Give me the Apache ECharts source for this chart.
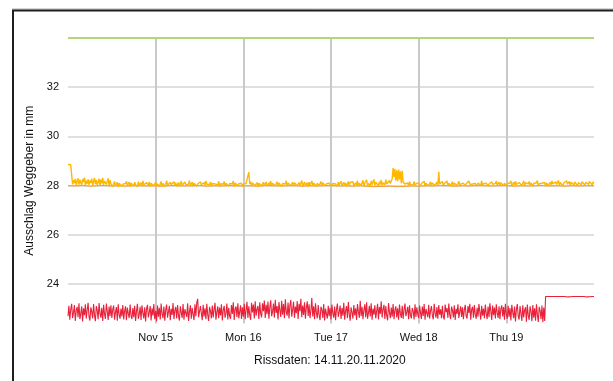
<!DOCTYPE html>
<html>
<head>
<meta charset="utf-8">
<script src="https://cdn.jsdelivr.net/npm/echarts@6/dist/echarts.min.js"></script>
<style>
html,body{margin:0;padding:0;background:#fff;}
#chart{width:613px;height:381px;}
</style>
</head>
<body>
<div id="chart"></div>
<script>
// ---- data (hours since 14.11.2020 00:00, sampled every 15 min) ----
const sampleStepHours = 0.25;
const dayTickLabels = ["", "Nov 15", "Mon 16", "Tue 17", "Wed 18", "Thu 19", ""];
const yTickValues = [24, 26, 28, 30, 32];
const limitValue = 34;
const limitHours = [0, 144];

const redValues = [
  22.70,23.12,22.55,22.98,23.20,22.62,22.84,23.15,22.50,22.92,23.08,22.66,23.22,22.58,22.80,23.10,22.48,23.02,22.74,23.18,22.60,22.95,23.24,22.68,
  22.52,23.06,22.88,22.61,23.19,22.73,22.49,23.11,22.94,22.57,23.23,22.82,22.64,23.04,22.50,23.16,22.78,22.59,23.21,22.90,22.54,23.09,22.70,23.14,
  22.63,22.97,23.13,22.55,22.86,23.07,22.51,23.18,22.76,22.60,23.01,22.69,23.15,22.56,22.91,23.10,22.53,23.05,22.81,22.62,23.17,22.72,22.58,23.03,
  22.66,23.12,22.50,22.89,23.20,22.59,22.77,23.08,22.54,23.14,22.83,22.61,23.06,22.48,22.99,23.16,22.65,22.85,23.11,22.52,23.02,22.73,23.19,22.57,
  22.92,22.49,23.13,22.68,23.04,22.56,23.21,22.80,22.62,23.09,22.51,22.96,23.17,22.64,22.87,23.12,22.53,23.00,22.75,23.23,22.58,22.93,23.07,22.60,
  23.15,22.71,22.52,23.10,22.84,22.63,23.19,22.55,22.98,23.06,22.67,23.22,22.50,22.88,23.14,22.59,23.03,22.78,22.54,23.18,22.70,23.25,23.40,22.66,
  22.58,23.11,22.82,22.53,23.16,22.69,23.02,22.57,23.20,22.76,22.50,23.08,22.91,22.61,23.13,22.65,22.97,23.24,22.55,22.86,23.10,22.62,23.05,22.73,
  23.18,22.52,22.94,23.12,22.64,22.81,23.21,22.56,23.04,22.70,22.59,23.15,22.79,23.26,22.54,22.99,23.09,22.66,23.22,22.61,22.88,23.14,22.58,23.06,
  22.68,23.20,22.57,22.95,23.28,22.63,23.10,22.74,22.55,23.24,22.85,23.17,22.60,23.30,22.72,22.98,23.12,22.58,23.26,22.80,22.65,23.22,22.90,23.33,
  22.62,23.16,22.78,23.29,22.59,23.05,23.34,22.70,22.88,23.21,22.64,23.36,22.83,23.11,22.56,23.27,22.94,22.67,23.32,22.76,23.19,22.61,23.38,22.86,
  22.72,23.25,22.60,23.14,23.35,22.68,22.97,23.28,22.63,23.09,22.82,23.31,22.58,23.20,22.90,23.40,22.66,23.13,22.75,23.26,22.59,23.06,23.30,22.71,
  23.18,22.62,22.93,23.44,22.69,23.10,22.57,23.22,22.84,22.61,23.15,22.74,22.54,23.08,22.96,22.63,23.19,22.52,23.01,22.79,22.60,23.12,22.70,23.04,
  22.56,23.17,22.81,22.64,23.09,22.53,22.98,23.21,22.67,22.87,23.13,22.58,23.03,22.72,23.24,22.55,22.92,23.11,22.62,23.27,22.77,22.51,23.06,22.85,
  22.60,23.15,22.73,23.02,22.54,23.19,22.88,22.63,23.32,22.70,23.08,22.57,22.95,23.18,22.66,23.26,22.59,22.83,23.12,22.69,23.22,22.55,23.01,22.76,
  23.14,22.61,22.90,23.20,22.56,23.07,22.79,23.30,22.64,22.97,23.16,22.58,23.11,22.72,22.53,23.23,22.86,22.62,23.05,22.68,23.19,22.57,22.94,23.10,
  22.65,23.02,22.55,23.17,22.80,22.63,23.12,22.59,22.96,23.21,22.70,22.87,23.08,22.57,23.14,22.74,22.61,23.03,22.90,22.56,23.18,22.67,23.06,22.78,
  22.62,23.13,22.84,22.58,23.09,22.71,23.19,22.55,22.99,23.04,22.66,23.16,22.60,22.92,23.11,22.73,22.57,23.20,22.82,22.64,23.07,22.59,23.15,22.76,
  22.98,22.61,23.12,22.69,22.56,23.17,22.86,23.03,22.63,23.21,22.75,22.58,23.09,22.93,22.65,23.14,22.54,23.00,22.79,23.18,22.62,22.89,23.10,22.67,
  23.06,22.57,22.95,23.16,22.70,22.60,23.11,22.83,23.20,22.55,22.97,23.08,22.64,23.15,22.76,22.59,23.04,22.68,23.19,22.87,22.56,23.12,22.72,23.01,
  22.61,23.17,22.80,22.58,23.09,22.66,23.22,22.91,22.54,23.13,22.74,23.05,22.60,23.18,22.84,22.63,23.10,22.57,22.99,23.14,22.69,23.07,22.55,23.20,
  22.78,22.59,23.12,22.67,23.03,22.52,23.16,22.85,22.62,23.09,22.48,22.97,23.19,22.70,22.56,23.11,22.81,22.50,23.14,22.65,22.94,23.06,22.47,23.17,
  22.73,22.55,23.10,22.88,22.49,23.15,22.64,23.02,22.51,23.18,22.76,22.46,23.08,22.92,22.58,23.13,22.45,23.05,22.50,23.50,23.50,23.49,23.50,23.50,
  23.50,23.50,23.49,23.50,23.50,23.48,23.50,23.50,23.49,23.50,23.50,23.50,23.48,23.50,23.50,23.49,23.50,23.50,23.50,23.48,23.50,23.50,23.49,23.50,
  23.50,23.50,23.50,23.48,23.50,23.49,23.50,23.50,23.50,23.48,23.50,23.50,23.49,23.50,23.50,23.50,23.48,23.50,23.50,23.49,23.50,23.50,23.50,23.49,
  23.50
];

const yellowValues = [
  28.86,28.87,28.86,28.85,28.86,28.05,28.22,28.10,28.28,27.99,28.18,28.30,28.04,28.24,28.12,28.02,28.27,28.15,28.33,28.01,28.20,28.08,28.26,28.03,
  28.21,28.11,28.29,27.99,28.17,28.31,28.06,28.23,28.02,28.14,28.28,28.00,28.25,28.09,28.32,28.03,28.19,28.27,28.05,28.13,28.30,27.98,28.22,28.07,
  28.12,27.96,28.08,28.17,27.99,28.04,28.14,27.95,28.10,28.02,28.16,27.97,28.06,28.13,27.98,28.09,28.18,28.00,28.05,28.15,27.96,28.11,28.03,28.08,
  27.97,28.14,28.04,28.09,27.95,28.16,28.01,28.07,28.12,27.98,28.19,28.03,28.08,27.96,28.13,28.05,28.01,28.15,27.97,28.10,28.06,28.12,27.99,28.04,
  28.15,27.98,28.07,28.11,27.96,28.03,28.17,28.00,28.09,28.13,27.97,28.06,28.20,28.02,28.10,27.95,28.14,28.04,28.08,27.99,28.16,28.01,28.12,27.97,
  28.05,28.13,27.98,28.09,28.18,28.01,28.07,27.96,28.15,28.04,28.11,27.99,28.06,28.21,28.00,28.08,28.14,27.97,28.10,28.03,28.17,27.98,28.07,28.12,
  27.99,28.16,28.04,28.08,27.96,28.13,28.02,28.19,28.06,27.98,28.11,28.05,28.15,27.97,28.09,28.01,28.14,28.07,27.99,28.12,28.03,28.18,27.96,28.08,
  28.13,28.00,28.06,28.17,27.98,28.10,28.04,28.15,27.97,28.09,28.12,28.01,28.07,28.19,27.96,28.11,28.05,28.14,27.99,28.08,28.16,28.02,28.10,27.97,
  28.06,28.14,27.99,28.09,28.12,28.02,28.55,28.07,28.16,27.98,28.11,28.04,28.17,28.00,28.08,28.13,27.96,28.10,28.05,28.18,27.99,28.07,28.14,28.01,
  28.09,28.15,27.98,28.06,28.12,28.03,28.19,27.97,28.10,28.05,28.14,28.00,28.08,28.16,27.99,28.11,28.04,28.17,27.96,28.09,28.13,28.02,28.07,28.20,
  27.98,28.11,28.05,28.16,28.00,28.08,28.14,27.97,28.12,28.04,28.18,27.99,28.07,28.13,28.02,28.10,28.21,27.98,28.06,28.15,28.01,28.09,28.12,27.96,
  28.14,28.03,28.08,28.19,27.99,28.11,28.05,28.16,27.97,28.10,28.13,28.00,28.07,28.17,27.98,28.12,28.04,28.15,27.99,28.08,28.14,28.02,28.10,28.06,
  28.13,27.98,28.09,28.16,28.01,28.07,28.12,27.97,28.15,28.04,28.10,28.18,27.99,28.06,28.14,28.02,28.11,27.96,28.08,28.17,28.00,28.13,28.05,28.09,
  28.16,27.99,28.07,28.12,28.03,28.20,27.98,28.10,28.14,28.01,28.08,28.22,27.97,28.11,28.06,28.24,28.00,28.09,28.15,27.98,28.19,28.04,28.12,28.26,
  28.02,28.14,28.08,28.20,27.99,28.16,28.05,28.23,28.01,28.12,28.18,28.03,28.25,28.07,28.15,28.00,28.21,28.09,28.13,28.28,28.72,28.35,28.68,28.20,
  28.62,28.18,28.65,28.25,28.58,28.10,28.60,28.15,28.22,28.06,28.14,28.02,28.11,27.99,28.16,28.05,28.09,28.13,28.01,28.17,28.04,28.10,27.98,28.12,
  28.07,28.15,27.99,28.09,28.13,28.02,28.18,27.97,28.10,28.06,28.14,28.00,28.08,28.16,27.98,28.11,28.04,28.12,28.01,28.09,28.15,27.99,28.56,28.07,
  28.13,28.02,28.17,27.98,28.08,28.12,28.04,28.19,27.99,28.10,28.14,28.01,28.06,28.16,27.97,28.11,28.05,28.13,28.00,28.09,28.18,27.98,28.07,28.14,
  28.03,28.10,28.16,27.99,28.08,28.13,28.01,28.19,28.05,27.97,28.12,28.07,28.15,28.00,28.09,28.17,27.98,28.11,28.04,28.14,28.02,28.20,27.99,28.08,
  28.15,28.03,28.10,28.18,27.98,28.07,28.13,28.01,28.16,28.05,28.11,27.97,28.09,28.19,28.02,28.08,28.14,27.99,28.12,28.06,28.17,28.00,28.10,28.13,
  27.98,28.09,28.15,28.03,28.11,28.20,27.99,28.07,28.14,28.02,28.18,28.05,28.10,27.97,28.13,28.08,28.16,28.01,28.06,28.19,27.98,28.12,28.04,28.15,
  28.07,28.17,28.00,28.11,28.14,27.98,28.09,28.16,28.03,28.12,28.21,27.99,28.08,28.15,28.02,28.10,28.18,28.04,28.13,27.97,28.11,28.16,28.01,28.09,
  28.14,28.03,28.19,28.07,28.12,27.99,28.16,28.05,28.10,28.22,28.01,28.13,28.08,28.18,27.98,28.11,28.15,28.04,28.20,28.06,28.12,28.17,28.00,28.14,
  28.09,28.19,28.03,28.15,28.11,28.22,27.99,28.13,28.07,28.18,28.04,28.16,28.10,28.21,28.02,28.14,28.08,28.19,28.05,28.17,28.12,28.20,28.03,28.15,
  28.10
];

const orangeStepHours = 2;
const orangeValues = [
  28.00,27.99,28.01,27.98,28.00,28.01,27.99,28.00,27.98,28.01,28.00,27.99,
  28.00,27.98,28.01,28.00,27.99,28.00,28.01,27.98,28.00,27.99,28.01,28.00,
  27.99,28.00,27.98,28.01,28.00,27.99,28.00,28.01,27.98,28.00,27.99,28.00,
  28.01,27.99,28.00,27.98,28.00,27.97,27.96,27.97,27.98,27.96,27.97,27.99,
  27.98,28.00,27.99,28.01,28.00,27.98,28.00,27.99,28.01,28.00,27.99,28.00,
  28.01,27.98,28.00,27.99,28.00,28.01,27.99,28.00,27.98,28.00,27.99,28.00,
  28.00
];

function toPairs(vals, step) { return vals.map((v, i) => [i * step, v]); }

const chart = echarts.init(document.getElementById('chart'), null, {renderer: 'canvas'});
const FONT = '"Liberation Sans", Arial, sans-serif';

chart.setOption({
  backgroundColor: '#ffffff',
  animation: false,
  title: {
    text: 'Rissdaten: 14.11.20.11.2020',
    left: 249, top: 350,
    textStyle: {fontFamily: FONT, fontSize: 12, fontWeight: 'normal', color: '#111'}
  },
  grid: {left: 68, right: 19, top: 38, bottom: 57.5, containLabel: false},
  xAxis: {
    type: 'value', min: 0, max: 144, interval: 24,
    axisLine: {show: false}, axisTick: {show: false},
    axisLabel: {
      fontFamily: FONT, fontSize: 11, color: '#111', margin: 9,
      formatter: v => dayTickLabels[Math.round(v / 24)] || ''
    },
    splitLine: {show: true, showMinLine: false, showMaxLine: false, lineStyle: {color: '#c9c9c9', width: 2}}
  },
  yAxis: {
    type: 'value', min: 22.4, max: 34,
    name: 'Ausschlag Weggeber in mm', nameLocation: 'middle', nameGap: 31,
    nameTextStyle: {fontFamily: FONT, fontSize: 12, color: '#111'},
    axisLine: {show: false},
    axisTick: {show: false, customValues: yTickValues},
    axisLabel: {fontFamily: FONT, fontSize: 11, color: '#111', margin: 9, customValues: yTickValues},
    splitLine: {show: true, lineStyle: {color: '#d4d4d4', width: 1.5}}
  },
  graphic: [
    {type: 'line', shape: {x1: 12, y1: 9, x2: 613, y2: 9}, style: {stroke: '#b0b0b0', lineWidth: 1}, silent: true},
    {type: 'line', shape: {x1: 12, y1: 10.5, x2: 613, y2: 10.5}, style: {stroke: '#1e1e1e', lineWidth: 2}, silent: true},
    {type: 'line', shape: {x1: 13, y1: 10, x2: 13, y2: 381}, style: {stroke: '#1e1e1e', lineWidth: 2}, silent: true}
  ],
  series: [
    {
      type: 'line', name: 'Grenze', data: limitHours.map(h => [h, limitValue]),
      symbol: 'none', lineStyle: {color: '#b2d67a', width: 2}, z: 3
    },
    {
      type: 'line', name: 'Weggeber 2', data: toPairs(orangeValues, orangeStepHours),
      symbol: 'none', lineStyle: {color: '#ee9a3a', width: 1}, z: 2
    },
    {
      type: 'line', name: 'Weggeber 1', data: toPairs(yellowValues, sampleStepHours),
      symbol: 'none', lineStyle: {color: '#ffb800', width: 1.4}, z: 3
    },
    {
      type: 'line', name: 'Weggeber 3', data: toPairs(redValues, sampleStepHours),
      symbol: 'none', lineStyle: {color: '#e8203a', width: 1.1}, z: 3
    }
  ]
});
</script>
</body>
</html>
